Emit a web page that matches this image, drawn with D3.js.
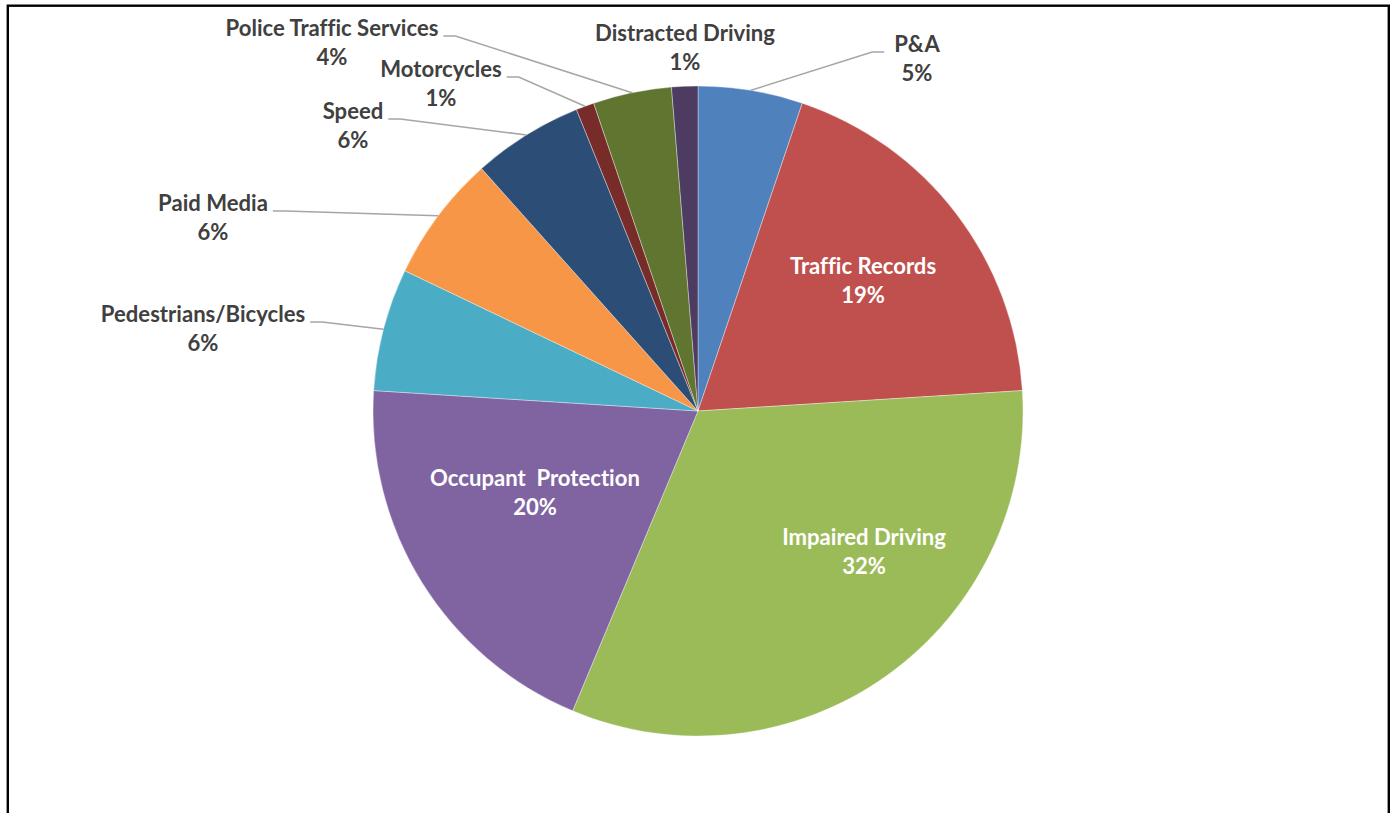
<!DOCTYPE html>
<html>
<head>
<meta charset="utf-8">
<script src="https://cdn.jsdelivr.net/npm/d3@7"></script>
<style>
body{margin:0;background:#fff;overflow:hidden;}
text{font-family:Lato,"Open Sans",sans-serif;font-weight:700;white-space:pre;font-variant-ligatures:none;}
</style>
</head>
<body>
<svg width="1395" height="813"></svg>
<script>
'use strict';

// slices, clockwise from 12 o'clock
var categories = ["P&A","Traffic Records","Impaired Driving","Occupant  Protection","Pedestrians/Bicycles",
                  "Paid Media","Speed","Motorcycles","Police Traffic Services","Distracted Driving"];
var shares = [5.2,18.8,32.3,19.7,6.1,6.3,5.5,0.9,3.9,1.3];
var colors = ["#4F81BD","#C0504D","#9BBB59","#8064A2","#4BACC6",
              "#F79646","#2C4D75","#772C2A","#5F7530","#4D3B62"];

// label placement: centre x, baseline of first line, side the leader leaves from
var labelPos = [[917,52,"right"],[863,274,"in"],[864,545,"in"],[535,486,"in"],[203,322,"left"],
                [213,211,"left"],[353,119,"left"],[441,77,"left"],[332,36,"left"],[685,41,"none"]];

let svg = d3.select("svg"),
    cx = 698, cy = 411, R = 325;

svg.append("rect")
    .attr("x",7.8).attr("y",5.7)
    .attr("width",1381).attr("height",900)
    .attr("fill","none")
    .attr("stroke","#000")
    .attr("stroke-width",2.4);

// pick a font size so the label widths match the picture
var probe = svg.append("text").style("font-size","20px").text("Police Traffic Services");
var fs = 20*213/probe.node().getComputedTextLength();
probe.remove();

var data = categories.map(function(c,i){ return {name:c, value:shares[i], color:colors[i], pos:labelPos[i]}; });

var pie = d3.pie().sort(null).value(function(d){ return d.value; });
var arc = d3.arc().innerRadius(0).outerRadius(R);
var arcs = pie(data);

let g = svg.append("g").attr("transform","translate("+cx+","+cy+")");

g.selectAll("path")
    .data(arcs)
    .enter()
    .append("path")
    .attr("d",arc)
    .attr("fill",function(d){ return d.data.color; })
    .attr("stroke","#fff")
    .attr("stroke-width",0.6)
    .attr("stroke-opacity",0.6);

var labels = svg.append("g")
    .selectAll("text")
    .data(arcs)
    .enter()
    .append("text")
    .attr("text-anchor","middle")
    .style("font-size",fs+"px")
    .attr("fill",function(d){ return d.data.pos[2]=="in" ? "#fff" : "#404040"; });

labels.append("tspan")
    .attr("x",function(d){ return d.data.pos[0]; })
    .attr("y",function(d){ return d.data.pos[1]; })
    .text(function(d){ return d.data.name; });
labels.append("tspan")
    .attr("x",function(d){ return d.data.pos[0]; })
    .attr("y",function(d){ return d.data.pos[1]+29; })
    .text(function(d){ return Math.round(d.data.value)+"%"; });

// leader lines
var lines = svg.append("g");
labels.each(function(d){
    var side = d.data.pos[2];
    if(side!="left" && side!="right") return;
    var w = d3.select(this).select("tspan").node().getComputedTextLength();
    var a = (d.startAngle+d.endAngle)/2;
    var ex = cx + R*Math.sin(a), ey = cy - R*Math.cos(a);
    var y0 = d.data.pos[1], x0, x1;
    if(side=="left"){ x0 = d.data.pos[0]+w/2+5; x1 = x0+12; }
    else { x0 = d.data.pos[0]-w/2-10; x1 = x0-12; }
    lines.append("polyline")
        .attr("points",[[x0,y0],[x1,y0],[ex,ey]].join(" "))
        .attr("fill","none")
        .attr("stroke","#A6A6A6")
        .attr("stroke-width",1.5);
});
</script>
</body>
</html>
